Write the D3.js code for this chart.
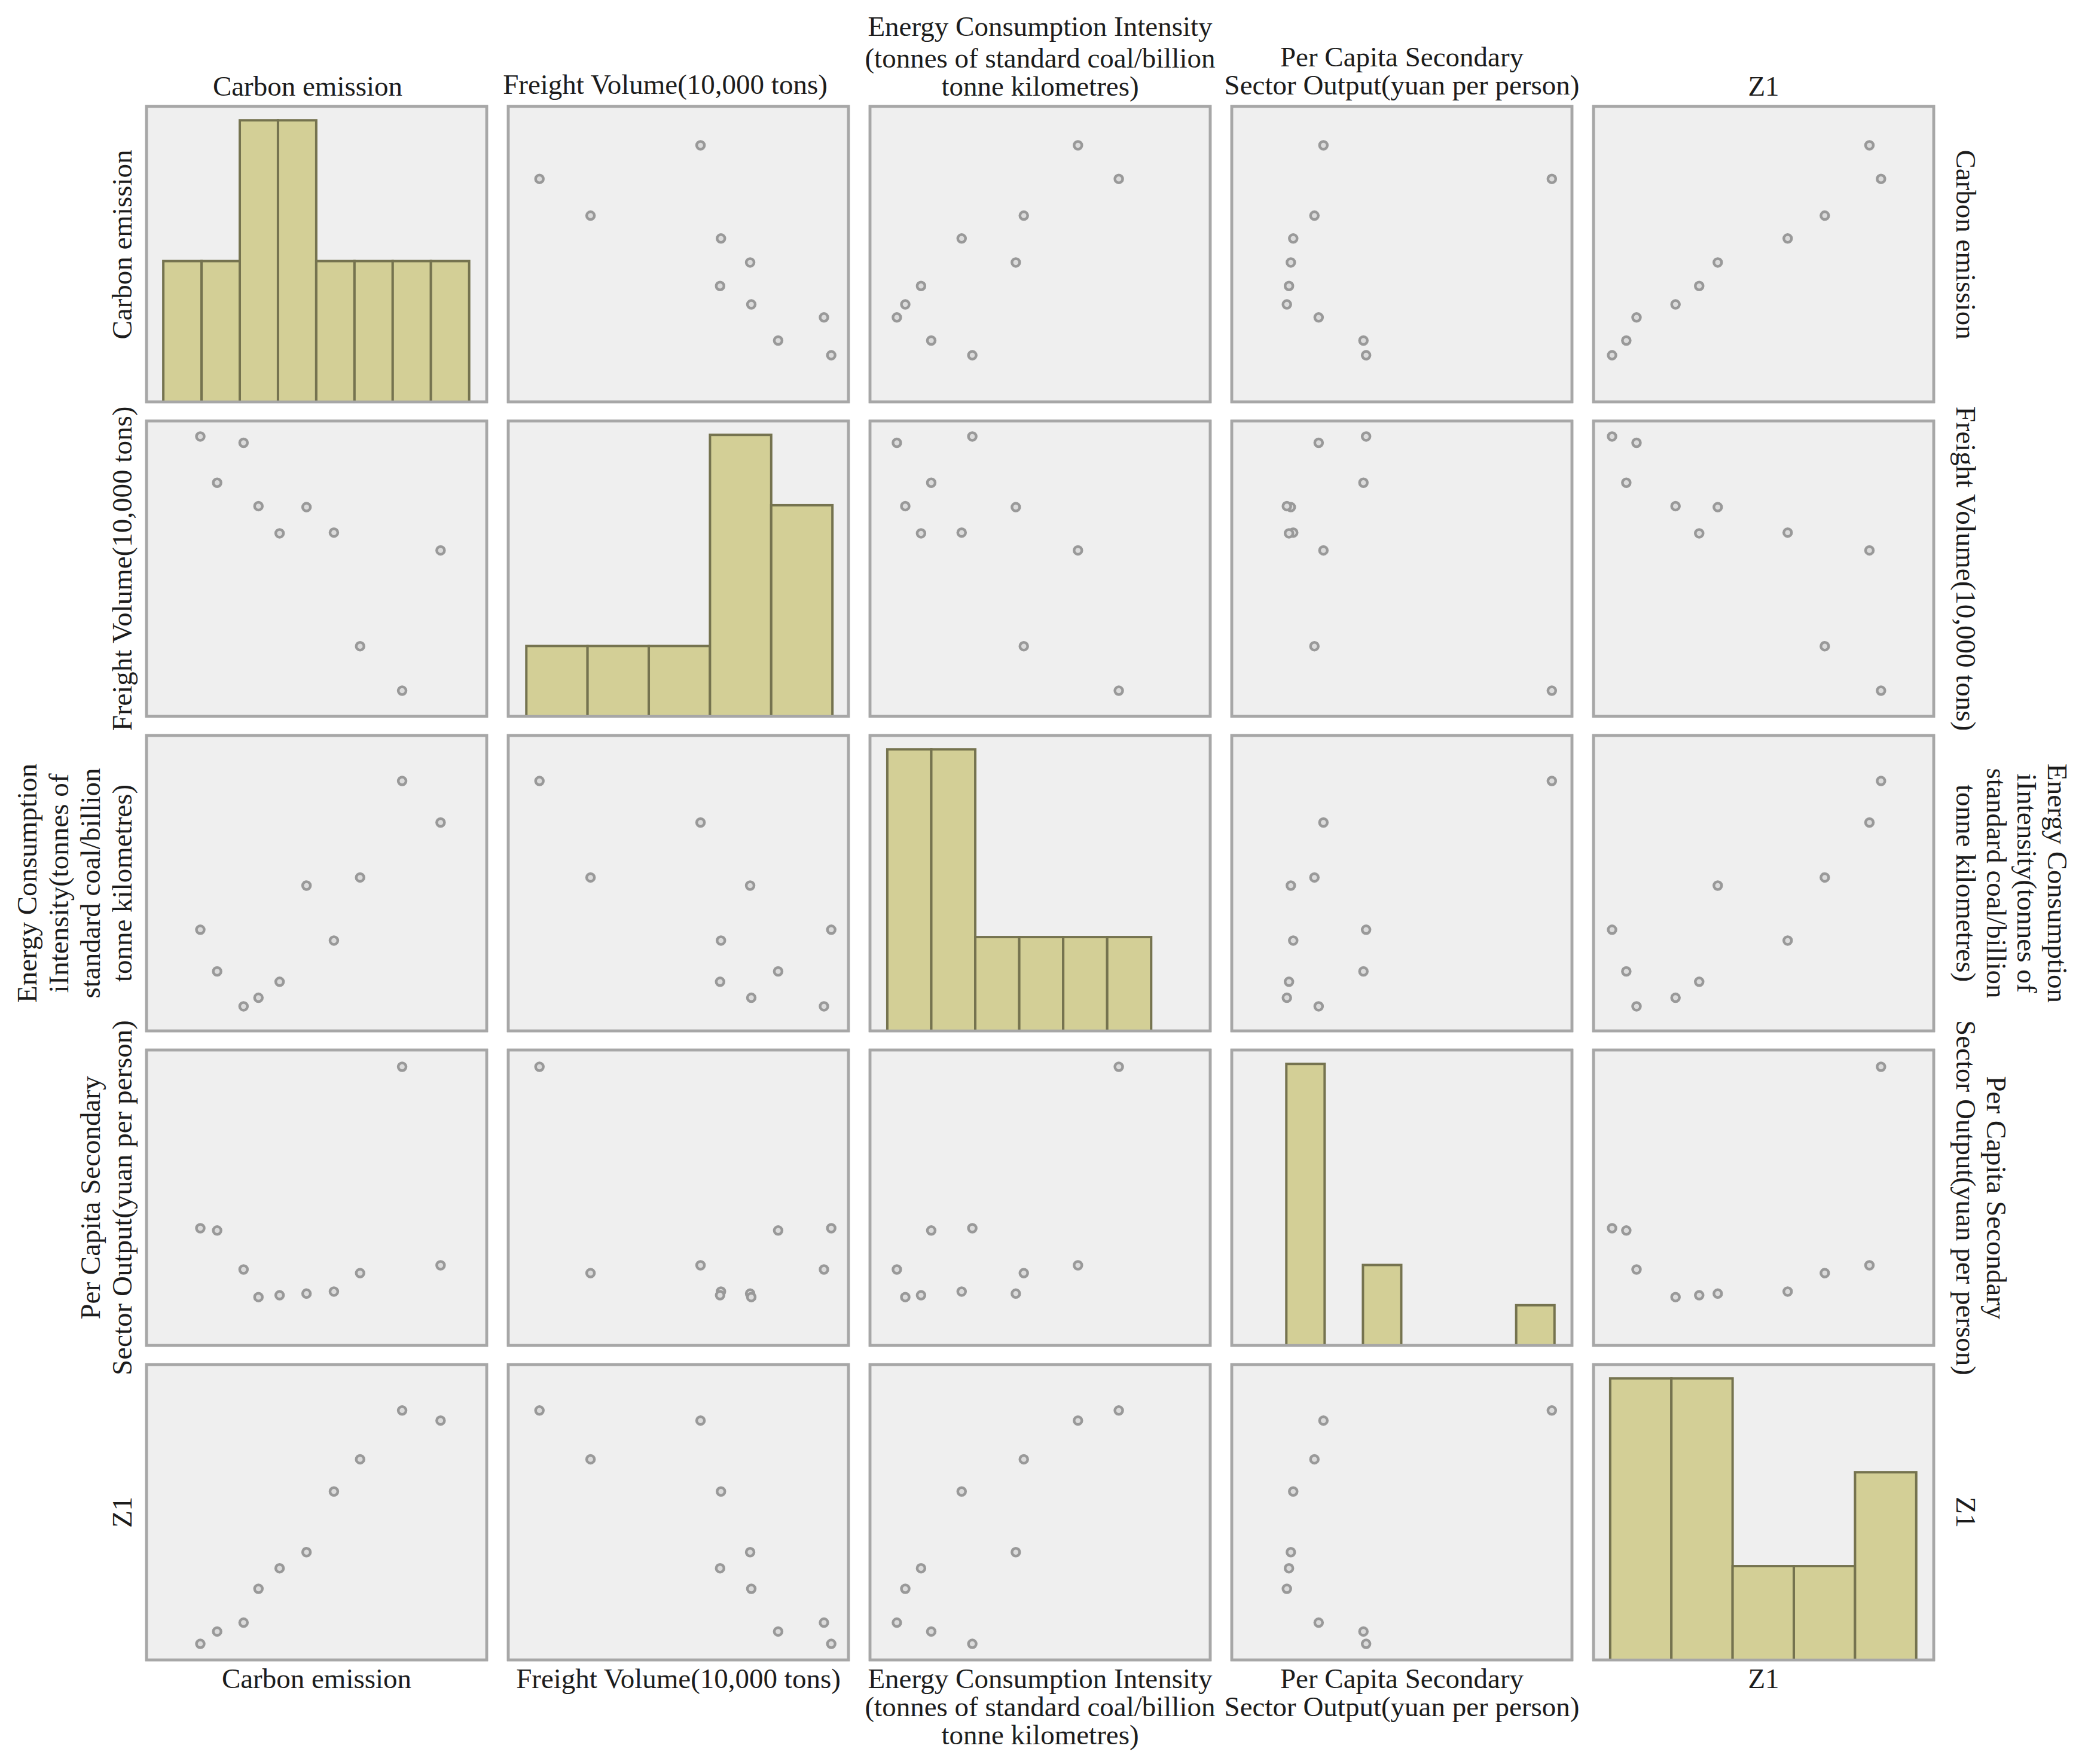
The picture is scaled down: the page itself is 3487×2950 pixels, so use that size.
<!DOCTYPE html>
<html>
<head>
<meta charset="utf-8">
<script src="https://cdn.jsdelivr.net/npm/d3@7"></script>
<style>
  html, body { margin: 0; padding: 0; background: #ffffff; }
  svg { display: block; }
</style>
</head>
<body>
<svg id="chart" width="3487" height="2950"></svg>
<script>
const variables = ["carbon", "freight", "energy", "percap", "z1"];

const carbonEmission      = [100, 84.0, 66.5, 55.6, 44.2, 33.0, 24.2, 18.0, 7.0, 0];
const freightVolume       = [55.2, 0, 17.5, 62.2, 72.2, 61.9, 72.6, 97.5, 81.8, 100];
const energyIntensity     = [81.6, 100, 57.2, 29.2, 53.6, 10.9, 3.8, 0, 15.5, 34.0];
const perCapitaSecondary  = [13.8, 100, 10.4, 2.4, 1.5, 0.8, 0, 12.0, 28.9, 29.9];
const z1Values            = [95.7, 100, 79.1, 65.3, 39.3, 32.4, 23.6, 9.1, 5.3, 0];

// histogram counts per variable (bins)
const carbonHist  = [1, 1, 2, 2, 1, 1, 1, 1];
const freightHist = [1, 1, 1, 4, 3];
const energyHist  = [3, 3, 1, 1, 1, 1];
const percapHist  = [7, 0, 2, 0, 0, 0, 1];
const z1Hist      = [3, 3, 1, 1, 2];

// histogram bin extent (value units)
const carbonBinRange  = [-15.4, 111.9];
const freightBinRange = [-4.5, 100.4];
const energyBinRange  = [-4.3, 114.6];
const percapBinRange  = [-0.2, 101.0];
const z1BinRange      = [-0.7, 113.1];

// axis domains (value units) used by the panels
const carbonXDomain  = [-22.4, 119.2], carbonYDomain  = [-22.2, 118.5];
const freightXDomain = [-10.7, 105.9], freightYDomain = [-10.1, 106.1];
const energyXDomain  = [-12.1, 141.2], energyYDomain  = [-10.9, 120.2];
const percapXDomain  = [-20.8, 107.6], percapYDomain  = [-21.0, 107.3];
const z1XDomain      = [-6.9, 119.6],  z1YDomain      = [-6.9, 119.7];

// labels
const headerLines = {
  carbon:  ["Carbon emission"],
  freight: ["Freight Volume(10,000 tons)"],
  energy:  ["Energy Consumption Intensity", "(tonnes of standard coal/billion", "tonne kilometres)"],
  percap:  ["Per Capita Secondary", "Sector Output(yuan per person)"],
  z1:      ["Z1"]
};
const sideLines = {
  carbon:  ["Carbon emission"],
  freight: ["Freight Volume(10,000 tons)"],
  energy:  ["Energy Consumption", "iIntensity(tonnes of", "standard coal/billion", "tonne kilometres)"],
  percap:  ["Per Capita Secondary", "Sector Output(yuan per person)"],
  z1:      ["Z1"]
};

// ---------------- assemble ----------------
const values = {carbon: carbonEmission, freight: freightVolume, energy: energyIntensity, percap: perCapitaSecondary, z1: z1Values};
const hists  = {carbon: carbonHist, freight: freightHist, energy: energyHist, percap: percapHist, z1: z1Hist};
const binRanges = {carbon: carbonBinRange, freight: freightBinRange, energy: energyBinRange, percap: percapBinRange, z1: z1BinRange};
const xDomains = {carbon: carbonXDomain, freight: freightXDomain, energy: energyXDomain, percap: percapXDomain, z1: z1XDomain};
const yDomains = {carbon: carbonYDomain, freight: freightYDomain, energy: energyYDomain, percap: percapYDomain, z1: z1YDomain};

// ---------------- layout / style ----------------
const FONT = "'Liberation Serif', 'DejaVu Serif', serif";
const FS = 47;
const svg = d3.select("#chart");

const colScale = d3.scaleBand().domain(variables).range([245, 3234]).paddingInner(0.0595);
const rowScale = d3.scaleBand().domain(variables).range([178, 2776]).paddingInner(0.0608);
const W = colScale.bandwidth(), H = rowScale.bandwidth();

const topBaselines = {carbon: [160], freight: [157], energy: [60, 113, 160], percap: [111, 158], z1: [160]};
const topShift = {carbon: -15, freight: -22, energy: 0, percap: 0, z1: 0};
const sideShift = {carbon: -16, freight: 0, energy: 0, percap: 0, z1: 0};
const bottomFirst = 2823, bottomStep = 47;
const leftLast = 220, leftStep = 53;
const rightLast = 3272, rightStep = 51;

variables.forEach(rv => {
  variables.forEach(cv => {
    const g = svg.append("g").attr("transform", `translate(${colScale(cv)},${rowScale(rv)})`);
    g.append("rect")
      .attr("x", 0).attr("y", 0).attr("width", W).attr("height", H)
      .attr("fill", "#efefef").attr("stroke", "#a7a7a7").attr("stroke-width", 4.5);

    const x = d3.scaleLinear().domain(xDomains[cv]).range([0, W]);
    if (rv === cv) {
      const counts = hists[cv];
      const br = binRanges[cv];
      const bw = (br[1] - br[0]) / counts.length;
      const yH = d3.scaleLinear().domain([0, d3.max(counts) / 0.953]).range([H, 0]);
      const bins = counts.map((c, i) => ({x0: br[0] + i * bw, x1: br[0] + (i + 1) * bw, c}));
      g.selectAll("rect.bar").data(bins.filter(b => b.c > 0)).enter().append("rect")
        .attr("class", "bar")
        .attr("x", d => x(d.x0)).attr("width", d => x(d.x1) - x(d.x0))
        .attr("y", d => yH(d.c)).attr("height", d => H - yH(d.c))
        .attr("fill", "#d3cf96").attr("stroke", "#75734f").attr("stroke-width", 4);
    } else {
      const y = d3.scaleLinear().domain(yDomains[rv]).range([H, 0]);
      const pts = values[cv].map((v, i) => [v, values[rv][i]]);
      g.selectAll("circle").data(pts).enter().append("circle")
        .attr("cx", d => x(d[0])).attr("cy", d => y(d[1])).attr("r", 6.5)
        .attr("fill", "#dcdcdc").attr("stroke", "#999999").attr("stroke-width", 4.5);
    }
  });
});

// redraw panel borders on top of bars
variables.forEach(rv => variables.forEach(cv => {
  svg.append("rect").attr("x", colScale(cv)).attr("y", rowScale(rv)).attr("width", W).attr("height", H)
    .attr("fill", "none").attr("stroke", "#a7a7a7").attr("stroke-width", 4.5);
}));

const txt = (sel) => sel.attr("font-family", FONT).attr("font-size", FS).attr("fill", "#1c1c1c").attr("text-anchor", "middle");

// top + bottom headers
variables.forEach(v => {
  const cx = colScale(v) + W / 2;
  headerLines[v].forEach((line, i) => {
    svg.append("text").call(txt).attr("x", cx + topShift[v]).attr("y", topBaselines[v][i]).text(line);
    svg.append("text").call(txt).attr("x", cx).attr("y", bottomFirst + i * bottomStep).text(line);
  });
});

// left + right side labels
variables.forEach(v => {
  const cy = rowScale(v) + H / 2 + sideShift[v];
  const lines = sideLines[v];
  const n = lines.length;
  lines.forEach((line, i) => {
    const lx = leftLast - (n - 1 - i) * leftStep;
    svg.append("text").call(txt).attr("transform", `translate(${lx},${cy}) rotate(-90)`).text(line);
    const rx = rightLast + (n - 1 - i) * rightStep;
    svg.append("text").call(txt).attr("transform", `translate(${rx},${cy}) rotate(90)`).text(line);
  });
});
</script>
</body>
</html>
